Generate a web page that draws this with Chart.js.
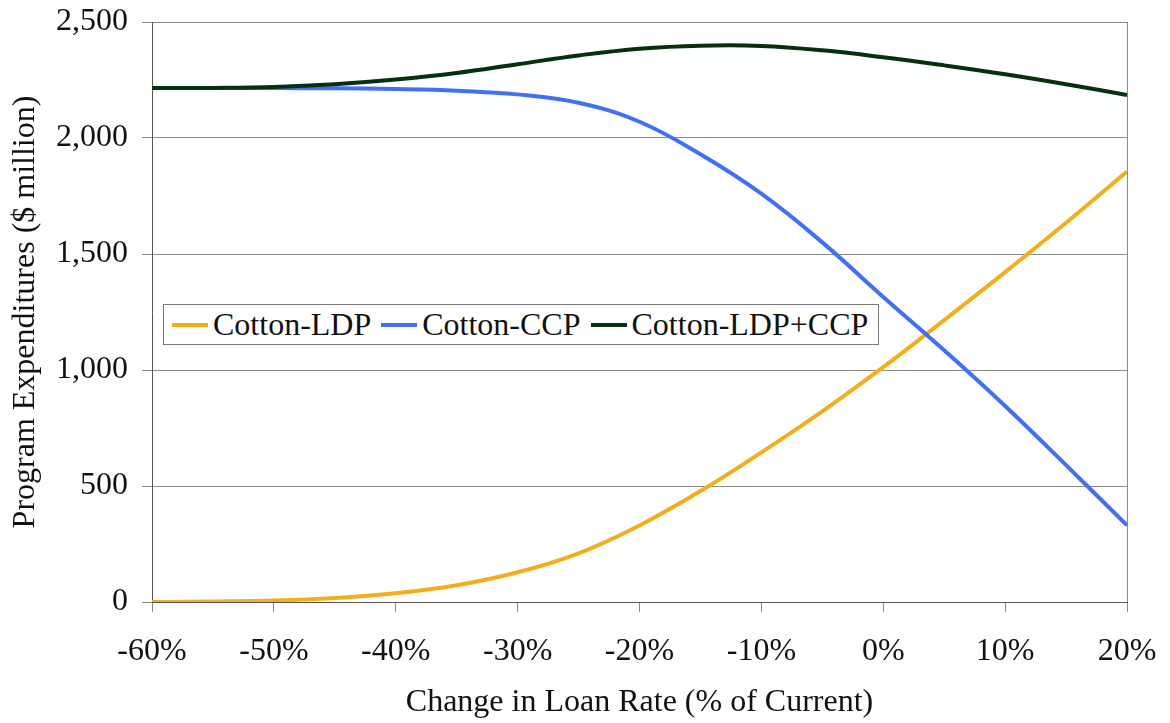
<!DOCTYPE html>
<html>
<head>
<meta charset="utf-8">
<script src="https://cdn.jsdelivr.net/npm/chart.js@4"></script>
<style>
  html, body { margin: 0; padding: 0; background: #fff; }
  #wrap { position: relative; width: 1170px; height: 723px; }
  #legend {
    position: absolute; left: 163px; top: 304px; height: 39px;
    border: 1px solid #7a7a7a; background: #fff;
    display: flex; align-items: center; padding: 0 10px 0 8px;
    font-family: 'Liberation Serif', 'Times New Roman', serif; font-size: 32px; color: #111;
  }
  #legend .item { display: flex; align-items: center; margin-right: 10px; }
  #legend .item:last-child { margin-right: 0; }
  #legend .swatch { width: 36px; height: 4px; margin-right: 5px; }
</style>
</head>
<body>
<div id="wrap">
  <canvas id="costChart" width="1170" height="723"></canvas>
  <div id="legend"></div>
</div>
<script>
// change in loan rate, % of current
const loanRate = [-60, -55, -50, -45, -40, -35, -30, -25, -20, -15, -10, -5, 0, 5, 10, 15, 20];
// program expenditures, $ million
const ldp    = [0, 2, 6, 17, 38, 72, 128, 210, 330, 478, 645, 822, 1012, 1215, 1422, 1635, 1855];
const ccp    = [2215, 2215, 2215, 2214, 2211, 2204, 2188, 2152, 2070, 1930, 1760, 1550, 1315, 1085, 845, 590, 330];
const ldpCcp = [2215, 2216, 2220, 2232, 2252, 2280, 2318, 2356, 2385, 2398, 2397, 2378, 2348, 2313, 2275, 2232, 2185];

const seriesNames = ['Cotton-LDP', 'Cotton-CCP', 'Cotton-LDP+CCP'];
const seriesColors = ['#f3ae1e', '#4170f4', '#06300d'];

const serif = "'Liberation Serif', 'Times New Roman', serif";
const toPoints = vals => loanRate.map((x, i) => ({ x: x, y: vals[i] }));

// right edge of the plot box
const rightBorder = {
  id: 'rightBorder',
  beforeDatasetsDraw(chart) {
    const { ctx, chartArea } = chart;
    ctx.save();
    ctx.strokeStyle = '#8a8a8a';
    ctx.lineWidth = 1;
    ctx.beginPath();
    ctx.moveTo(Math.round(chartArea.right) + 0.5, chartArea.top);
    ctx.lineTo(Math.round(chartArea.right) + 0.5, chartArea.bottom);
    ctx.stroke();
    ctx.restore();
  }
};

const ctx = document.getElementById('costChart').getContext('2d');
const costChart = new Chart(ctx, {
  type: 'line',
  data: {
    datasets: [
      { label: seriesNames[0], data: toPoints(ldp), borderColor: seriesColors[0], order: 2 },
      { label: seriesNames[1], data: toPoints(ccp), borderColor: seriesColors[1], order: 1 },
      { label: seriesNames[2], data: toPoints(ldpCcp), borderColor: seriesColors[2], order: 0 }
    ]
  },
  options: {
    responsive: false,
    animation: false,
    layout: { padding: { top: 22, right: 43, left: 0, bottom: 0 } },
    elements: {
      line: { borderWidth: 4, tension: 0.4, fill: false },
      point: { radius: 0 }
    },
    plugins: {
      legend: { display: false },
      tooltip: { enabled: false }
    },
    scales: {
      x: {
        type: 'linear',
        min: -60,
        max: 20,
        afterFit: scale => {
          scale.height = 121;
          scale.paddingLeft = 0;
          scale.paddingRight = 0;
        },
        ticks: {
          stepSize: 10,
          padding: 20,
          color: '#111',
          font: { family: serif, size: 32 },
          maxRotation: 0,
          callback: v => v + '%'
        },
        grid: { drawOnChartArea: false, drawTicks: true, tickLength: 10, color: '#8a8a8a' },
        border: { color: '#555', width: 1 },
        title: {
          display: true,
          text: 'Change in Loan Rate (% of Current)',
          color: '#111',
          font: { family: serif, size: 32, lineHeight: 1.2 },
          padding: { top: 0, bottom: 1 }
        }
      },
      y: {
        min: 0,
        max: 2500,
        afterFit: scale => {
          scale.width = 152;
          scale.paddingTop = 0;
          scale.paddingBottom = 0;
        },
        ticks: {
          stepSize: 500,
          padding: 14,
          color: '#111',
          font: { family: serif, size: 32 },
          callback: v => v.toLocaleString('en-US')
        },
        grid: { color: '#8a8a8a', tickLength: 10 },
        border: { color: '#555', width: 1 },
        title: {
          display: true,
          text: 'Program Expenditures ($ million)',
          color: '#111',
          font: { family: serif, size: 32, lineHeight: 1.2 },
          padding: { top: 6, bottom: 0 }
        }
      }
    }
  },
  plugins: [rightBorder]
});

// legend box sitting inside the plot
const legendBox = document.getElementById('legend');
costChart.data.datasets.forEach(ds => {
  const item = document.createElement('div');
  item.className = 'item';
  const sw = document.createElement('span');
  sw.className = 'swatch';
  sw.style.background = ds.borderColor;
  const txt = document.createElement('span');
  txt.textContent = ds.label;
  item.appendChild(sw);
  item.appendChild(txt);
  legendBox.appendChild(item);
});
</script>
</body>
</html>
